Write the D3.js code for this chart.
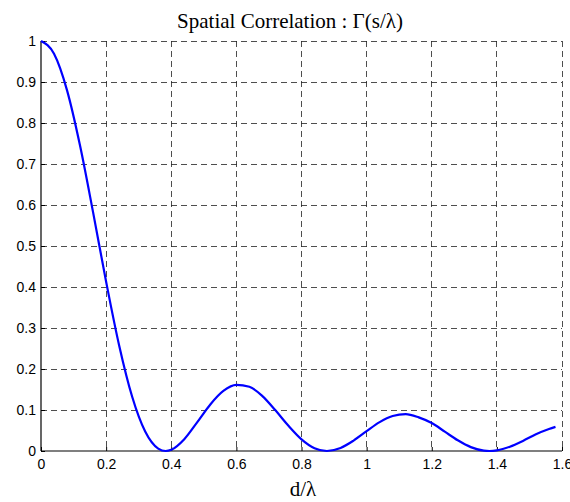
<!DOCTYPE html>
<meta charset="utf-8">
<head>
<title>Spatial Correlation</title>
<style>
body { margin: 0; background: #fff; }
.title, .xlabel { font-family: "Liberation Serif", "Times New Roman", serif; fill: #000; }
.grid line { stroke: #222; stroke-width: 0.8; stroke-dasharray: 6,4; shape-rendering: crispEdges; }
</style>
</head>
<body>
<script src="https://d3js.org/d3.v7.min.js"></script>
<script>

// values (d/lambda vs correlation)
var dist = [0, 0.04, 0.08, 0.12, 0.16, 0.20, 0.24, 0.28, 0.32, 0.36, 0.383, 0.40,
            0.44, 0.48, 0.52, 0.56, 0.60, 0.64, 0.68, 0.72, 0.76, 0.80, 0.84, 0.878,
            0.92, 0.96, 1.00, 1.04, 1.08, 1.12, 1.16, 1.20, 1.24, 1.28, 1.32, 1.36,
            1.377, 1.40, 1.44, 1.48, 1.52, 1.56, 1.58];
var corr = [1, 0.9688, 0.8796, 0.7444, 0.5820, 0.4128, 0.2574, 0.1322, 0.0474, 0.0058, 0, 0.0030,
            0.0289, 0.0705, 0.1136, 0.1465, 0.1614, 0.1566, 0.1340, 0.0992, 0.0614, 0.0285, 0.0069, 0,
            0.0073, 0.0254, 0.0485, 0.0704, 0.0852, 0.0900, 0.0820, 0.0681, 0.0472, 0.0261, 0.0095, 0.0009,
            0, 0.0015, 0.0104, 0.0245, 0.0408, 0.0536, 0.0589];

var xTicks = [0, 0.2, 0.4, 0.6, 0.8, 1, 1.2, 1.4, 1.6];
var yTicks = [0, 0.1, 0.2, 0.3, 0.4, 0.5, 0.6, 0.7, 0.8, 0.9, 1];

var W = 570, H = 502,
    plotL = 41, plotR = 562, plotT = 41, plotB = 451;

var svg = d3.select("body").append("svg")
    .attr("width", W)
    .attr("height", H);

var x = d3.scaleLinear().domain([0, 1.6]).range([plotL, plotR]);
var y = d3.scaleLinear().domain([0, 1]).range([plotB, plotT]);

// dashed grid
var grid = svg.append("g").attr("class", "grid");
grid.selectAll(".gx")
    .data(xTicks.filter(function(d) { return d > 0; }))
    .enter().append("line")
    .attr("x1", function(d) { return x(d); })
    .attr("x2", function(d) { return x(d); })
    .attr("y1", plotT)
    .attr("y2", plotB);
grid.selectAll(".gy")
    .data(yTicks.filter(function(d) { return d > 0; }))
    .enter().append("line")
    .attr("x1", plotL)
    .attr("x2", plotR)
    .attr("y1", function(d) { return y(d); })
    .attr("y2", function(d) { return y(d); });

// axes (MATLAB style: inward ticks)
var fmt = function(d) { return String(+d.toFixed(1)); };
var xAxis = svg.append("g")
    .attr("transform", "translate(0," + plotB + ")")
    .call(d3.axisBottom(x).tickValues(xTicks).tickSize(-4).tickPadding(8).tickFormat(fmt));
var yAxis = svg.append("g")
    .attr("transform", "translate(" + plotL + ",0)")
    .call(d3.axisLeft(y).tickValues(yTicks).tickSize(-4).tickPadding(5).tickFormat(fmt));

[xAxis, yAxis].forEach(function(a) {
    a.attr("font-size", 14).attr("font-family", "'Liberation Sans', Arial, sans-serif");
    a.select(".domain").attr("stroke", "#000").attr("stroke-width", 1.2);
    a.selectAll(".tick line").attr("stroke", "#000");
    a.selectAll(".tick text").attr("fill", "#000");
});
xAxis.select(".domain").attr("d", "M" + plotL + ",0H" + plotR);
yAxis.select(".domain").attr("d", "M0," + plotT + "V" + plotB);

// curve
var line = d3.line()
    .x(function(d, i) { return x(dist[i]); })
    .y(function(d) { return y(d); })
    .curve(d3.curveMonotoneX);

svg.append("path")
    .datum(corr)
    .attr("d", line)
    .attr("fill", "none")
    .attr("stroke", "#0000ff")
    .attr("stroke-width", 2.2);

// texts
svg.append("text")
    .attr("class", "title")
    .attr("x", 290)
    .attr("y", 28)
    .attr("text-anchor", "middle")
    .attr("font-size", 21)
    .text("Spatial Correlation : \u0393(s/\u03bb)");

svg.append("text")
    .attr("class", "xlabel")
    .attr("x", 303)
    .attr("y", 496)
    .attr("text-anchor", "middle")
    .attr("font-size", 21)
    .text("d/\u03bb");

</script>
</body>
